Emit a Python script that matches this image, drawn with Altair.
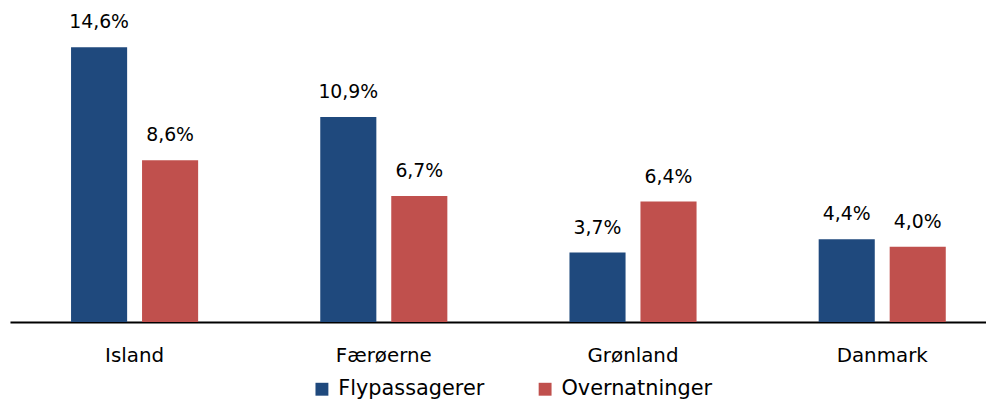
import altair as alt
import pandas as pd

categories = ["Island", "Færøerne", "Grønland", "Danmark"]
series = ["Flypassagerer", "Overnatninger"]
flypassagerer = [14.6, 10.9, 3.7, 4.4]
overnatninger = [8.6, 6.7, 6.4, 4.0]
colors = ["#1F497D", "#C0504D"]

rows = []
for c, a, b in zip(categories, flypassagerer, overnatninger):
    rows.append({"land": c, "serie": series[0], "v": a})
    rows.append({"land": c, "serie": series[1], "v": b})
df = pd.DataFrame(rows)

FONT = "DejaVu Sans"

base = alt.Chart(df).encode(
    x=alt.X(
        "land:N",
        sort=categories,
        scale=alt.Scale(range=[2, 1007], paddingInner=0, paddingOuter=0),
        axis=alt.Axis(
            title=None,
            domainColor="black",
            domainWidth=2,
            ticks=False,
            labelAngle=0,
            labelFont=FONT,
            labelFontSize=20,
            labelColor="#000000",
            labelPadding=24,
        ),
    ),
    xOffset=alt.XOffset(
        "serie:N", sort=series, scale=alt.Scale(paddingInner=0.21, paddingOuter=0.86)
    ),
    y=alt.Y("v:Q", scale=alt.Scale(domain=[0, 16.6], nice=False), axis=None),
)

bars = base.mark_bar().encode(
    color=alt.Color(
        "serie:N",
        sort=series,
        scale=alt.Scale(domain=series, range=colors),
        legend=alt.Legend(
            title=None,
            orient="none",
            legendX=306,
            legendY=372,
            direction="horizontal",
            columns=2,
            columnPadding=50,
            symbolType="square",
            symbolSize=169,
            symbolStrokeWidth=0,
            labelFont=FONT,
            labelFontSize=21,
            labelColor="#000000",
            labelOffset=6,
            padding=0,
        ),
    )
)

labels = base.transform_calculate(
    lbl="replace(format(datum.v, '.1f'), '.', ',') + '%'"
).mark_text(baseline="bottom", dy=-15, font=FONT, fontSize=19, color="#000000").encode(
    text="lbl:N"
)

chart = (
    alt.layer(bars, labels)
    .properties(
        width=986,
        height=315,
        autosize=alt.AutoSizeParams(type="none"),
        padding={"left": 0, "top": 0, "right": 0, "bottom": 78},
    )
    .configure_view(stroke=None)
)

chart.save("out.html", embed_options={"renderer": "svg", "actions": False})
